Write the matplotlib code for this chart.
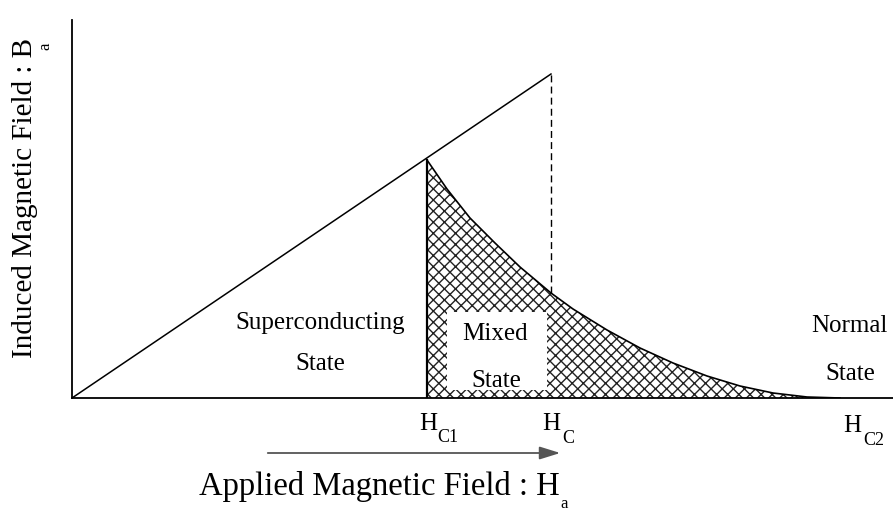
import matplotlib.pyplot as plt
from matplotlib.patches import Rectangle, FancyArrowPatch

plt.rcParams['font.family'] = ['Liberation Serif', 'DejaVu Serif']
plt.rcParams['hatch.linewidth'] = 1.0

# critical fields along the applied-field axis
H_C1 = 355
H_C = 479
H_C2 = 768

# induced field rises linearly up to H_C
B_linear_H = [0, H_C]
B_linear = [0, 324]

# mixed-state boundary: decay from H_C1 down to H_C2
curve_H = [355, 375, 398, 423, 448, 479, 501, 535, 568, 601, 635, 668, 701, 735, 768]
curve_B = [238, 209, 180, 155, 131, 105, 89, 68, 50, 35, 22, 12, 5, 1, 0]

tick_subs = ['C1', 'C', 'C2']
tick_pos = [H_C1, H_C, H_C2]

fig = plt.figure(figsize=(8.93, 5.13), dpi=100)
ax = fig.add_axes([72 / 893, 115 / 513, 821 / 893, 378 / 513])
ax.set_xlim(0, 821)
ax.set_ylim(0, 378)
for side in ['top', 'right']:
    ax.spines[side].set_visible(False)
for side in ['left', 'bottom']:
    ax.spines[side].set_linewidth(1.3)
ax.set_xticks([])
ax.set_yticks([])

# linear rise and dashed drop at H_C
ax.plot(B_linear_H, B_linear, color='black', lw=1.1)
ax.plot([H_C, H_C], [curve_B[curve_H.index(H_C)], B_linear[1]],
        color='black', lw=1.0, ls=(0, (5, 3)))

# hatched mixed state region
ax.fill_between(curve_H, 0, curve_B, facecolor='white', edgecolor='#222222',
                hatch='xxx', lw=0)
ax.plot([H_C1, H_C1], [0, curve_B[0]], color='black', lw=1.6)
ax.plot(curve_H, curve_B, color='black', lw=1.2)

# white box behind the "Mixed State" label
ax.add_patch(Rectangle((375, 8), 100, 78, facecolor='white', edgecolor='none', zorder=3))

txt = dict(fontsize=18, ha='center', va='baseline', zorder=4)
ax.text(248, 69, 'Superconducting', **txt)
ax.text(248, 28, 'State', **txt)
ax.text(423, 58, 'Mixed', **txt)
ax.text(424, 11, 'State', **txt)
ax.text(777, 66, 'Normal', **txt)
ax.text(778, 18, 'State', **txt)

# critical field labels under the axis
name_shift = [1, 0, 12]
name_base = [430, 430, 432]
sub_shift = [9, 11, 11]
sub_base = [442, 443, 445]
for sub, pos, ns, nb, ss, sb in zip(tick_subs, tick_pos, name_shift, name_base,
                                    sub_shift, sub_base):
    x = pos + 72 + ns
    fig.text(x / 893, 1 - nb / 513, 'H', fontsize=18, ha='center', va='baseline')
    fig.text((x + ss) / 893, 1 - sb / 513, sub, fontsize=13, ha='left', va='baseline')

# arrow showing increasing applied field
fig.patches.append(FancyArrowPatch(
    (265 / 893, 1 - 453 / 513), (563 / 893, 1 - 453 / 513), transform=fig.transFigure,
    arrowstyle='-|>,head_length=0.9,head_width=0.28', mutation_scale=14,
    color='#555555', lw=1.3))

fig.text(379 / 893, 1 - 495 / 513, 'Applied Magnetic Field : H', fontsize=23.5,
         ha='center', va='baseline')
fig.text(564 / 893, 1 - 508 / 513, 'a', fontsize=12, ha='center', va='baseline')

fig.text(25 / 893, 1 - 198 / 513, 'Induced Magnetic Field : B', fontsize=21,
         rotation=90, ha='center', va='center')
fig.text(45 / 893, 1 - 46 / 513, 'a', fontsize=12, rotation=90, ha='center', va='center')

fig.savefig('out.png', dpi=100)
